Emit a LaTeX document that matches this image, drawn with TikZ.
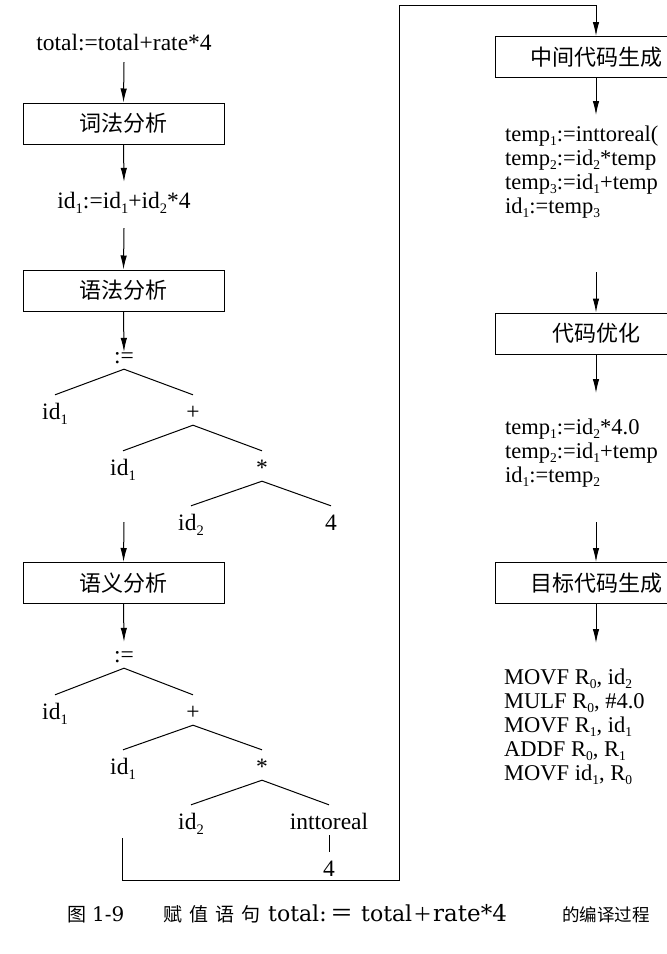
\documentclass[tikz,border=0pt]{standalone}
\usepackage{fontspec}
\setmainfont{Liberation Serif}
\newfontfamily\cjk{Noto Sans CJK SC}
\newfontfamily\capser{DejaVu Serif}
\usetikzlibrary{arrows.meta}
\newcommand\sbx[1]{\raisebox{-5pt}{\fontsize{14.5}{14.5}\selectfont #1}}
\newcommand\sbc[1]{\raisebox{-4pt}{\fontsize{13.5}{13.5}\selectfont #1}}
\newcommand\capc[1]{{\cjk\fontsize{19}{22}\selectfont #1}}
\newcommand\capl[1]{{\capser\fontsize{22}{24}\selectfont #1}}
\begin{document}
\begin{tikzpicture}[x=1pt,y=-1pt,
  every node/.style={font=\fontsize{23.5}{28}\selectfont},
  stage/.style={draw, line width=1pt, minimum width=201pt, minimum height=41pt, inner sep=0pt, font=\cjk\fontsize{22}{26}\selectfont},
  tl/.style={inner sep=0pt, text height=24pt, text depth=6pt, anchor=base},
  code/.style={inner sep=0pt, text height=15pt, text depth=4pt, anchor=base west, font=\fontsize{22.5}{25}\selectfont},
  arr/.style={line width=1pt, -{Latex[length=14pt,width=6.5pt]}},
  ln/.style={line width=1pt},
  capt/.style={inner sep=0pt, anchor=base west}
]
\useasboundingbox (0,0) rectangle (667,954);
\fill[white] (0,0) rectangle (667,954);
\clip (0,0) rectangle (667,954);

% ---- left column
\node[tl] (src) at (124,50) {total:=total+rate*4};
\node[stage] (b1) at (123.5,123.5) {词法分析};
\node[tl] (ir) at (124,208) {id\sbx{1}:=id\sbx{1}+id\sbx{2}*4};
\node[stage] (b2) at (123.5,290.5) {语法分析};
\draw[arr] ([yshift=-6pt]src.south) -- (b1.north);
\draw[arr] (b1.south) -- ([yshift=2pt]ir.north);
\draw[arr] ([yshift=-14pt]ir.south) -- (b2.north);

% tree 1
\node[tl] (r1) at (124,363) {:=};
\node[tl] (a1) at (55,419) {id\sbx{1}};
\node[tl] (p1) at (193,419) {+};
\node[tl] (a2) at (123,475) {id\sbx{1}};
\node[tl] (m1) at (262,475) {*};
\node[tl] (a3) at (191,530) {id\sbx{2}};
\node[tl] (f1) at (331,530) {4};
\draw[arr] (b2.south) -- ([yshift=-13pt]r1.north);
\draw[ln] (r1.south) -- (a1.north);
\draw[ln] (r1.south) -- (p1.north);
\draw[ln] (p1.south) -- (a2.north);
\draw[ln] (p1.south) -- (m1.north);
\draw[ln] (m1.south) -- (a3.north);
\draw[ln] (m1.south) -- (f1.north);

\coordinate (g3) at (124,522);
\node[stage] (b3) at (123.5,583) {语义分析};
\draw[arr] (g3) -- (b3.north);

% tree 2
\node[tl] (r2) at (124,662) {:=};
\node[tl] (a4) at (55,719) {id\sbx{1}};
\node[tl] (p2) at (193,719) {+};
\node[tl] (a5) at (123,774) {id\sbx{1}};
\node[tl] (m2) at (262,774) {*};
\node[tl] (a6) at (191,829) {id\sbx{2}};
\node[tl] (it) at (329,829) {inttoreal};
\node[tl] (f2) at (329,876) {4};
\draw[arr] (b3.south) -- ([yshift=-4pt]r2.north);
\draw[ln] (r2.south) -- (a4.north);
\draw[ln] (r2.south) -- (p2.north);
\draw[ln] (p2.south) -- (a5.north);
\draw[ln] (p2.south) -- (m2.north);
\draw[ln] (m2.south) -- (a6.north);
\draw[ln] (m2.south) -- (it.north);
\draw[ln] (it.south) -- (f2.north);

% ---- connection to right column
\node[stage] (b4) at (596,57) {中间代码生成};
\coordinate (k0) at (122,838);
\coordinate (k1) at (399,880);
\coordinate (k2) at (399,5);
\draw[arr] (k0) |- (k1) -- (k2) -| (b4.north);

% ---- right column
\coordinate (c1t) at (596,115);
\draw[arr] (b4.south) -- (c1t);
\node[code] (c11) at (505,141) {temp\sbc{1}:=inttoreal(};
\node[code] (c12) at (505,165) {temp\sbc{2}:=id\sbc{2}*temp};
\node[code] (c13) at (505,189) {temp\sbc{3}:=id\sbc{1}+temp};
\node[code] (c14) at (505,213) {id\sbc{1}:=temp\sbc{3}};

\coordinate (c2s) at (596,272);
\node[stage] (b5) at (596,333.5) {代码优化};
\draw[arr] (c2s) -- (b5.north);
\coordinate (c2t) at (596,393);
\draw[arr] (b5.south) -- (c2t);
\node[code] (c21) at (505,434) {temp\sbc{1}:=id\sbc{2}*4.0};
\node[code] (c22) at (505,458) {temp\sbc{2}:=id\sbc{1}+temp};
\node[code] (c23) at (505,482) {id\sbc{1}:=temp\sbc{2}};

\coordinate (c3s) at (596,522);
\node[stage] (b6) at (596,583) {目标代码生成};
\draw[arr] (c3s) -- (b6.north);
\coordinate (c3t) at (596,643);
\draw[arr] (b6.south) -- (c3t);
\node[code] (c31) at (504,684) {MOVF R\sbc{0}, id\sbc{2}};
\node[code] (c32) at (504,708) {MULF R\sbc{0}, \#4.0};
\node[code] (c33) at (504,732) {MOVF R\sbc{1}, id\sbc{1}};
\node[code] (c34) at (504,756) {ADDF R\sbc{0}, R\sbc{1}};
\node[code] (c35) at (504,780) {MOVF id\sbc{1}, R\sbc{0}};

% ---- caption
\node[capt] (cap) at (67,921) {\rlap{\capc{图}}\hspace{25pt}\rlap{{\capser\fontsize{20}{22}\selectfont 1-9}}\hspace{71pt}\rlap{\capc{赋}}\hspace{26pt}\rlap{\capc{值}}\hspace{26pt}\rlap{\capc{语}}\hspace{26pt}\rlap{\capc{句}}\hspace{27pt}\rlap{\capl{total:}}\hspace{62pt}\rlap{{\cjk\fontsize{23}{24}\selectfont ＝}}\hspace{31pt}\rlap{\capl{total}}\hspace{52pt}\rlap{\capc{＋}}\hspace{20pt}\rlap{{\capser\fontsize{23}{24}\selectfont rate*4}}\hspace{129pt}{\cjk\fontsize{17.5}{22}\selectfont 的编译过程}};
\end{tikzpicture}
\end{document}
